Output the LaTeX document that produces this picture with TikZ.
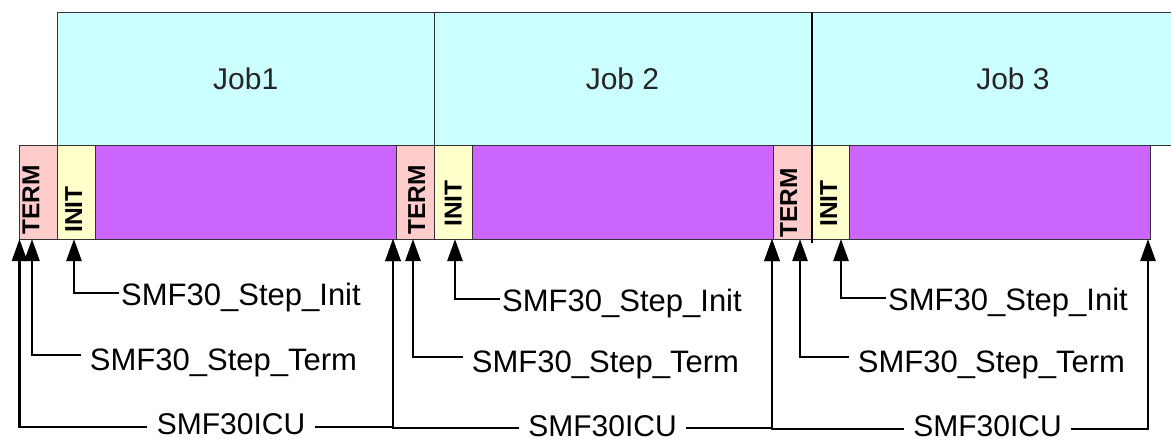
\documentclass[tikz,border=0pt]{standalone}
\usepackage{fontspec}
\setmainfont{Liberation Sans}
\usetikzlibrary{arrows.meta}
\definecolor{jobc}{HTML}{CCFFFF}
\definecolor{termc}{HTML}{FFCCCC}
\definecolor{initc}{HTML}{FFFFCC}
\definecolor{workc}{HTML}{CC66FF}
\definecolor{edgec}{HTML}{333333}
\begin{document}
\begin{tikzpicture}[x=1pt,y=-1pt,
  seg/.style={draw=edgec, line width=1pt, anchor=north west, minimum height=94pt, inner sep=0pt, outer sep=0pt},
  jobbox/.style={draw=edgec, line width=1pt, fill=jobc, anchor=north west, minimum height=132pt, inner sep=0pt, outer sep=0pt, font=\fontsize{30}{36}\selectfont, text=black!85},
  vlab/.style={rotate=90, anchor=base west, inner sep=0pt, font=\fontsize{24.5}{28}\selectfont\bfseries},
  steplab/.style={inner ysep=0pt, text depth=0pt, font=\fontsize{31}{36}\selectfont},
  iculab/.style={inner ysep=0pt, inner xsep=9.5pt, text depth=0pt, font=\fontsize{30}{36}\selectfont},
  arr/.style={line width=2.5pt, -{Triangle[length=22pt,width=15pt]}},
]
\path[use as bounding box] (0,0) rectangle (1171,444);
\clip (0,0) rectangle (1171,444);

% job boxes
\node[jobbox, minimum width=376.5pt] (job1) at (57.5,13) {Job1};
\node[jobbox, minimum width=377pt] (job2) at (434,13) {Job 2};
\node[jobbox, minimum width=404pt] (job3) at (811,13) {Job 3};

% step bar
\node[seg, fill=termc, minimum width=38pt] (term1) at (19.5,145) {};
\node[seg, fill=initc, minimum width=38pt] (init1) at (57.5,145) {};
\node[seg, fill=workc, minimum width=300.5pt] (work1) at (95.5,145) {};
\node[seg, fill=termc, minimum width=38pt] (term2) at (396,145) {};
\node[seg, fill=initc, minimum width=38pt] (init2) at (434,145) {};
\node[seg, fill=workc, minimum width=301pt] (work2) at (472,145) {};
\node[seg, fill=termc, minimum width=38pt] (term3) at (773,145) {};
\node[seg, fill=initc, minimum width=38pt] (init3) at (811,145) {};
\node[seg, fill=workc, minimum width=301pt] (work3) at (849,145) {};

% vertical labels
\node[vlab] (tl1) at (39.3,235) {TERM};
\node[vlab] (il1) at (82,233) {INIT};
\node[vlab] (tl2) at (425,235) {TERM};
\node[vlab] (il2) at (461.7,227) {INIT};
\node[vlab] (tl3) at (797,238) {TERM};
\node[vlab] (il3) at (837,227) {INIT};

% divider between job 2 and job 3
\coordinate (divEnd) at (812,243);
\draw[line width=2.5pt] ([xshift=1pt]job3.north west) -- (divEnd);

% arrow tips
\coordinate (tC1) at (19.5,239);
\coordinate (tT1) at (32,239);
\coordinate (tI1) at (74,239);
\coordinate (tC2) at (393,239);
\coordinate (tT2) at (413,239);
\coordinate (tI2) at (455,239);
\coordinate (tC3) at (772,239);
\coordinate (tT3) at (800,239);
\coordinate (tI3) at (841,239);
\coordinate (tC4) at (1148,239);

% labels
\node[steplab, inner xsep=2pt, text height=24pt] (sinit1) at (241,293) {SMF30\_Step\_Init};
\node[steplab, inner xsep=2pt, text height=24pt] (sinit2) at (622,299) {SMF30\_Step\_Init};
\node[steplab, inner xsep=2pt, text height=24pt] (sinit3) at (1008,298) {SMF30\_Step\_Init};
\node[steplab, inner xsep=9pt, text height=30pt] (sterm1) at (223.5,355) {SMF30\_Step\_Term};
\node[steplab, inner xsep=9pt, text height=30pt] (sterm2) at (605.5,357) {SMF30\_Step\_Term};
\node[steplab, inner xsep=9pt, text height=30pt] (sterm3) at (991.5,357) {SMF30\_Step\_Term};
\node[iculab, text height=14pt] (icu1) at (231,427) {SMF30ICU};
\node[iculab, text height=16pt] (icu2) at (602.5,428) {SMF30ICU};
\node[iculab, text height=14pt] (icu3) at (987.5,429) {SMF30ICU};

% connectors
\draw[arr] (sinit1.west) -| (tI1);
\draw[arr] (sinit2.west) -| (tI2);
\draw[arr] (sinit3.west) -| (tI3);
\draw[arr] (sterm1.west) -| (tT1);
\draw[arr] (sterm2.west) -| (tT2);
\draw[arr] (sterm3.west) -| (tT3);
\draw[arr] (icu1.west) -| (tC1);
\draw[arr] (icu1.east) -| (tC2);
\draw[arr] (icu2.west) -| (tC2);
\draw[arr] (icu2.east) -| (tC3);
\draw[arr] (icu3.west) -| (tC3);
\draw[arr] (icu3.east) -| (tC4);
\end{tikzpicture}
\end{document}
